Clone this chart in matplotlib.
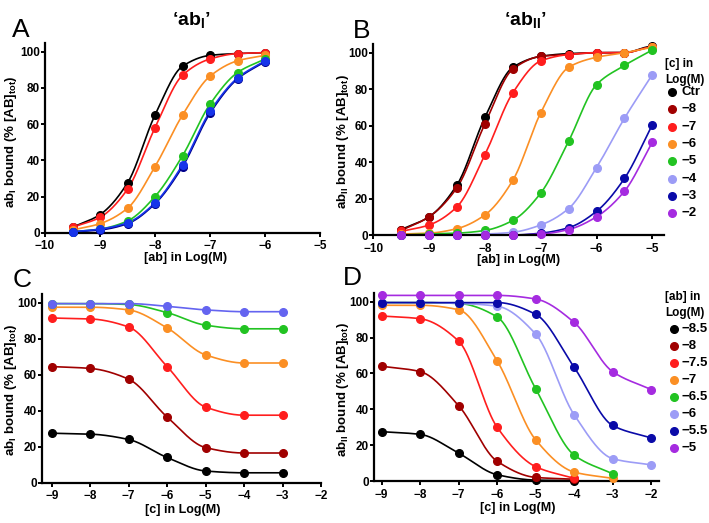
import numpy as np
import matplotlib
matplotlib.use("Agg")
import matplotlib.pyplot as plt
from matplotlib.lines import Line2D

plt.rcParams['font.family'] = ['Liberation Sans', 'DejaVu Sans']
plt.rcParams['font.weight'] = 'bold'
plt.rcParams['mathtext.fontset'] = 'custom'
plt.rcParams['mathtext.rm'] = 'Liberation Sans:bold'
plt.rcParams['mathtext.bf'] = 'Liberation Sans:bold'
plt.rcParams['mathtext.it'] = 'Liberation Sans:bold:italic'

# ---------------- data ----------------
# Panel A: ab_I bound vs [ab]
a_x = [-9.5, -9, -8.5, -8, -7.5, -7, -6.5, -6]
a_ctr = [3, 10, 27.5, 65, 92, 98, 99, 99.5]
a_m7 = [3, 8.5, 24, 58, 87, 96, 99, 99.5]
a_m6 = [1.5, 5, 13.5, 36.5, 65, 86.5, 95, 98]
a_m5 = [0.5, 2, 6.5, 20, 42.5, 71, 88.5, 96]
a_m4 = [0.5, 1.5, 5, 16, 36.5, 66, 85, 94.5]
a_m3 = [0.5, 2, 5.5, 16.5, 37.5, 67, 85.5, 95]

# Panel B: ab_II bound vs [ab]
b_x = [-9.5, -9, -8.5, -8, -7.5, -7, -6.5, -6, -5.5, -5]
b_ctr = [3, 10, 27.5, 64.5, 92, 98, 99.5, 100, 100, 103.5]
b_m8 = [2.5, 10, 26, 61, 91, 98, 99, 100, 100, 103]
b_m7 = [2, 5.5, 15.5, 44, 78, 95.5, 99, 100, 100, 103]
b_m6 = [0.5, 1, 3.5, 11, 30, 67, 92, 97.5, 100, 103]
b_m5 = [0, 0.5, 1, 2.5, 8, 23, 51.5, 82.5, 93, 101.5]
b_m4 = [0, 0, 0, 0.5, 1.5, 5.5, 14.5, 37, 64, 88]
b_m3 = [0, 0, 0, 0, 0, 1, 4, 13, 31, 60.5]
b_m2 = [0, 0, 0, 0, 0, 0.5, 3, 10, 24, 51]
b_labels = ['Ctr', '\u22128', '\u22127', '\u22126', '\u22125', '\u22124', '\u22123', '\u22122']

# Panel C: ab_I bound vs [c]
c_x = [-9, -8, -7, -6, -5, -4, -3]
c_m85 = [27.5, 27, 24, 14, 6.5, 5.5, 5.5]
c_m8 = [64.5, 63.5, 57.5, 36.5, 19.5, 16.5, 16.5]
c_m75 = [91.5, 91, 86.5, 64.5, 42, 37.5, 37.5]
c_m7 = [97.5, 97.5, 96, 86, 71, 66.5, 66.5]
c_m65 = [99.5, 99.5, 99, 94.5, 87.5, 85.5, 85.5]
c_m6 = [99.5, 99.5, 99.5, 98, 96, 95, 95]

# Panel D: ab_II bound vs [c]
d_x = [-9, -8, -7, -6, -5, -4, -3, -2]
d_m85 = [27.5, 26, 15.5, 3.5, 0.5, 0.2]
d_m8 = [64, 61, 42, 11, 2, 1]
d_m75 = [92, 90.5, 78, 30, 8, 1.5]
d_m7 = [98, 98, 95.5, 67, 23, 5, 1.5]
d_m65 = [99.5, 99.5, 99, 91.5, 51.5, 14.5, 4]
d_m6 = [99.5, 99.5, 99, 97.5, 82, 37, 12.5, 9]
d_m55 = [99.5, 99.5, 99.5, 99.5, 93, 63.5, 31, 24]
d_m5 = [103.5, 103.5, 103.5, 103.5, 101.5, 88.5, 61, 51]
d_labels = ['\u22128.5', '\u22128', '\u22127.5', '\u22127', '\u22126.5', '\u22126', '\u22125.5', '\u22125']

COL = dict(black='#000000', darkred='#a00000', red='#ff1e1e', orange='#fb8f24',
           green='#22c322', lblue='#9c9cf6', navy='#0a0aa8', purple='#a52be0',
           cblue='#6464f0', ablue='#1634ea', anavy='#00008b')

W, H = 709, 523
fig = plt.figure(figsize=(W / 100, H / 100), dpi=100)


def rect(x0, x1, y0, y1):
    # pixel coords: x0 left, x1 right, y0 bottom, y1 top
    return [x0 / W, 1 - y0 / H, (x1 - x0) / W, (y0 - y1) / H]


def smooth(x, y, n=300):
    x = np.asarray(x, float)
    y = np.asarray(y, float)
    h = np.diff(x)
    d = np.diff(y) / h
    m = np.zeros_like(y)
    for k in range(1, len(x) - 1):
        if d[k - 1] * d[k] > 0:
            w1 = 2 * h[k] + h[k - 1]
            w2 = h[k] + 2 * h[k - 1]
            m[k] = (w1 + w2) / (w1 / d[k - 1] + w2 / d[k])
    m[0] = d[0] if d[0] * d[min(1, len(d) - 1)] > 0 else 0
    m[-1] = d[-1] if d[-1] * d[max(-2, -len(d))] > 0 else 0
    xs = np.linspace(x[0], x[-1], n)
    idx = np.clip(np.searchsorted(x, xs) - 1, 0, len(x) - 2)
    t = (xs - x[idx]) / h[idx]
    h00 = 2 * t**3 - 3 * t**2 + 1
    h10 = t**3 - 2 * t**2 + t
    h01 = -2 * t**3 + 3 * t**2
    h11 = t**3 - t**2
    ys = h00 * y[idx] + h10 * h[idx] * m[idx] + h01 * y[idx + 1] + h11 * h[idx] * m[idx + 1]
    return xs, ys


def series(ax, x, y, color):
    x = x[:len(y)]
    xs, ys = smooth(x, y)
    ax.plot(xs, ys, color=color, lw=1.2, clip_on=False, zorder=2)
    ax.plot(x, y, 'o', color=color, ms=5.5, mec=color, clip_on=False, zorder=3)


def style(ax, xlim, xticks):
    ax.set_xlim(*xlim)
    ax.set_ylim(0, 105)
    ax.set_xticks(xticks)
    ax.set_yticks([0, 20, 40, 60, 80, 100])
    for s in ['top', 'right']:
        ax.spines[s].set_visible(False)
    for s in ['left', 'bottom']:
        ax.spines[s].set_linewidth(1.6)
    ax.spines['left'].set_bounds(0, 105)
    ax.tick_params(direction='out', length=3, width=1.4, labelsize=8.5, pad=0.8)
    ax.tick_params(axis='x', pad=2.6)
    for lab in ax.get_xticklabels() + ax.get_yticklabels():
        lab.set_fontweight('bold')
    ax.patch.set_alpha(0)


# ---- Panel A ----
axA = fig.add_axes(rect(45, 320, 232.7, 42.7))
for y, c in [(a_ctr, 'black'), (a_m7, 'red'), (a_m6, 'orange'), (a_m5, 'green'),
             (a_m4, 'anavy'), (a_m3, 'ablue')]:
    series(axA, a_x, y, COL[c])
style(axA, (-10, -5), [-10, -9, -8, -7, -6, -5])

# ---- Panel B ----
axB = fig.add_axes(rect(373.3, 663.5, 235, 43.6))
b_series = [b_ctr, b_m8, b_m7, b_m6, b_m5, b_m4, b_m3, b_m2]
b_cols = ['black', 'darkred', 'red', 'orange', 'green', 'lblue', 'navy', 'purple']
for y, c in zip(b_series, b_cols):
    series(axB, b_x, y, COL[c])
style(axB, (-10, -4.8), [-10, -9, -8, -7, -6, -5])

# ---- Panel C ----
axC = fig.add_axes(rect(42.1, 321, 482.7, 293.7))
for y, c in [(c_m85, 'black'), (c_m8, 'darkred'), (c_m75, 'red'), (c_m7, 'orange'),
             (c_m65, 'green'), (c_m6, 'cblue')]:
    series(axC, c_x, y, COL[c])
style(axC, (-9.25, -2), [-9, -8, -7, -6, -5, -4, -3, -2])

# ---- Panel D ----
axD = fig.add_axes(rect(374, 658.7, 481, 292.7))
d_series = [d_m85, d_m8, d_m75, d_m7, d_m65, d_m6, d_m55, d_m5]
for y, c in zip(d_series, b_cols):
    series(axD, d_x, y, COL[c])
style(axD, (-9.2, -1.8), [-9, -8, -7, -6, -5, -4, -3, -2])


def ftext(px, py, s, **kw):
    fig.text(px / W, 1 - py / H, s, **kw)


# panel letters
for lx, ly, s in [(21, 30, 'A'), (362, 31, 'B'), (22, 280, 'C'), (352, 278, 'D')]:
    ftext(lx, ly, s, fontsize=19, fontweight='normal', ha='center', va='center')

# titles
ftext(191, 20, '\u2018ab$_\\mathrm{I}$\u2019', fontsize=14, fontweight='bold', ha='center', va='center')
ftext(525, 20, '\u2018ab$_\\mathrm{II}$\u2019', fontsize=14, fontweight='bold', ha='center', va='center')

# axis labels
ylab_I = 'ab$_\\mathrm{I}$ bound (% [AB]$_\\mathrm{tot}$)'
ylab_II = 'ab$_\\mathrm{II}$ bound (% [AB]$_\\mathrm{tot}$)'
ftext(11, 142, ylab_I, fontsize=9.5, fontweight='bold', rotation=90, ha='center', va='center')
ftext(343, 142, ylab_II, fontsize=9.5, fontweight='bold', rotation=90, ha='center', va='center')
ftext(11, 390, ylab_I, fontsize=9.5, fontweight='bold', rotation=90, ha='center', va='center')
ftext(343, 390, ylab_II, fontsize=9.5, fontweight='bold', rotation=90, ha='center', va='center')
ftext(186, 258, '[ab] in Log(M)', fontsize=9, fontweight='bold', ha='center', va='center')
ftext(519, 260, '[ab] in Log(M)', fontsize=9, fontweight='bold', ha='center', va='center')
ftext(183, 510, '[c] in Log(M)', fontsize=9, fontweight='bold', ha='center', va='center')
ftext(518, 508, '[c] in Log(M)', fontsize=9, fontweight='bold', ha='center', va='center')


def legend(hx, hy, header, y0, dy, mx, tx, labels, cols):
    ftext(hx, hy, header, fontsize=8.5, fontweight='bold', ha='left', va='center', linespacing=1.35)
    for i, (lab, c) in enumerate(zip(labels, cols)):
        y = y0 + i * dy
        fig.add_artist(Line2D([mx / W], [1 - y / H], marker='o', ms=5.5, color=COL[c],
                              transform=fig.transFigure))
        ftext(tx, y, lab, fontsize=9.5, fontweight='bold', ha='left', va='center')


legend(665, 72, '[c] in\nLog(M)', 92, 17.3, 672, 681, b_labels, b_cols)
legend(665, 305, '[ab] in\nLog(M)', 329.3, 16.9, 674, 681, d_labels, b_cols)

fig.savefig('out.png', dpi=100)
